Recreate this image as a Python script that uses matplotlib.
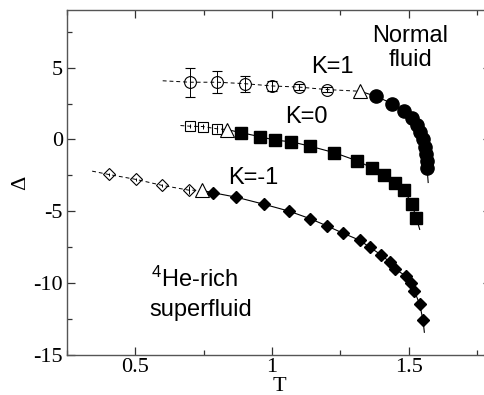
import matplotlib
matplotlib.use('Agg')
import matplotlib.pyplot as plt
from matplotlib.ticker import MultipleLocator

plt.rcParams['font.family'] = 'serif'
plt.rcParams['font.serif'] = ['Liberation Serif', 'DejaVu Serif']
plt.rcParams['mathtext.fontset'] = 'custom'
plt.rcParams['mathtext.rm'] = 'Liberation Sans'
plt.rcParams['axes.unicode_minus'] = False

# K=1 branch
k1_open_T = [0.70, 0.80, 0.90, 1.00, 1.10, 1.20]
k1_open_D = [3.98, 3.98, 3.88, 3.72, 3.64, 3.47]
k1_open_err = [1.0, 0.75, 0.55, 0.35, 0.2, 0.15]
k1_tri = (1.323, 3.35)
k1_fill_T = [1.380, 1.439, 1.481, 1.510, 1.529, 1.542, 1.551, 1.558, 1.563, 1.565, 1.567]
k1_fill_D = [3.0, 2.5, 2.0, 1.5, 1.0, 0.5, 0.0, -0.5, -1.0, -1.5, -2.0]
k1_ends = [(0.60, 4.08), (1.571, -2.99)]

# K=0 branch
k0_open_T = [0.701, 0.747, 0.799]
k0_open_D = [0.92, 0.90, 0.74]
k0_open_err = [0.15, 0.15, 0.3]
k0_tri = (0.835, 0.69)
k0_fill_T = [0.888, 0.957, 1.012, 1.071, 1.140, 1.228, 1.311, 1.367, 1.410, 1.450,
             1.483, 1.512, 1.528]
k0_fill_D = [0.47, 0.19, -0.05, -0.16, -0.47, -0.92, -1.48, -1.99, -2.49, -2.99,
             -3.51, -4.51, -5.49]
k0_ends = [(0.665, 0.97), (1.540, -6.25)]

# K=-1 branch
km1_open_T = [0.402, 0.504, 0.598, 0.695]
km1_open_D = [-2.43, -2.78, -3.19, -3.52]
km1_open_err = [0.1, 0.1, 0.1, 0.3]
km1_tri = (0.744, -3.54)
km1_fill_T = [0.784, 0.869, 0.972, 1.062, 1.140, 1.200, 1.258, 1.320, 1.358, 1.399,
              1.432, 1.448, 1.491, 1.509, 1.520, 1.540, 1.552]
km1_fill_D = [-3.70, -4.01, -4.51, -4.98, -5.51, -6.0, -6.5, -7.0, -7.5, -8.02,
              -8.54, -8.98, -9.51, -9.95, -10.5, -11.46, -12.55]
km1_ends = [(0.342, -2.2), (1.557, -13.4)]


def add_branch(ax, open_T, open_D, open_err, tri, fill_T, fill_D, ends,
               open_marker, open_ms, fill_marker, fill_ms, caps):
    "Dashed fit through the open symbols, solid fit through the filled ones"
    dash_T = [ends[0][0]] + list(open_T) + [tri[0]]
    dash_D = [ends[0][1]] + list(open_D) + [tri[1]]
    ax.plot(dash_T, dash_D, ls='--', dashes=(4, 3), color='black', lw=0.7, zorder=1)

    solid_T = [tri[0]] + list(fill_T) + [ends[1][0]]
    solid_D = [tri[1]] + list(fill_D) + [ends[1][1]]
    ax.plot(solid_T, solid_D, '-', color='black', lw=0.8, zorder=1)

    ax.errorbar(open_T, open_D, yerr=open_err, fmt=open_marker, ms=open_ms,
                mfc='none', mec='black', mew=0.8, ecolor='black',
                elinewidth=0.7, capsize=caps, capthick=0.8, zorder=2)
    ax.plot([tri[0]], [tri[1]], '^', ms=10.5, mfc='white', mec='black', mew=0.8, zorder=3)
    ax.plot(fill_T, fill_D, fill_marker, ms=fill_ms, color='black', zorder=3)


fig = plt.figure(figsize=(4.85, 3.95), dpi=100)
ax = fig.add_axes([67 / 485, 0.1005, 0.8738, 0.8742])

add_branch(ax, k1_open_T, k1_open_D, k1_open_err, k1_tri, k1_fill_T, k1_fill_D,
           k1_ends, 'o', 8.5, 'o', 9.5, 3.5)
add_branch(ax, k0_open_T, k0_open_D, k0_open_err, k0_tri, k0_fill_T, k0_fill_D,
           k0_ends, 's', 7, 's', 8.5, 0)
add_branch(ax, km1_open_T, km1_open_D, km1_open_err, km1_tri, km1_fill_T, km1_fill_D,
           km1_ends, 'D', 5.8, 'D', 6.3, 0)

ax.set_xlim(0.25, 1.8)
ax.set_ylim(-15, 9)
ax.xaxis.set_major_locator(MultipleLocator(0.5))
ax.xaxis.set_minor_locator(MultipleLocator(0.25))
ax.yaxis.set_major_locator(MultipleLocator(5))
ax.yaxis.set_minor_locator(MultipleLocator(2.5))
ax.set_xticks([0.5, 1, 1.5])
ax.set_xticklabels(['0.5', '1', '1.5'])
ax.tick_params(which='both', direction='in', top=True, right=True,
               labelsize=16, width=0.9, color='#333333')
ax.tick_params(which='major', length=6, pad=3)
ax.tick_params(axis='x', which='major', pad=2)
ax.tick_params(which='minor', length=3.5)
for sp in ax.spines.values():
    sp.set_color('#555555')
    sp.set_linewidth(1.0)

ax.set_xlabel('T', fontsize=16, labelpad=0)
ax.set_ylabel('Δ', fontsize=16, labelpad=2)

sans = 'Liberation Sans'
fs = 17
ax.text(1.220, 5.03, 'K=1', fontsize=fs, family=sans, ha='center', va='center')
ax.text(1.125, 1.53, 'K=0', fontsize=fs, family=sans, ha='center', va='center')
ax.text(0.930, -2.67, 'K=-1', fontsize=fs, family=sans, ha='center', va='center')
ax.text(1.504, 7.22, 'Normal', fontsize=fs, family=sans, ha='center', va='center')
ax.text(1.506, 5.49, 'fluid', fontsize=fs, family=sans, ha='center', va='center')
ax.text(0.716, -9.72, r'$\mathregular{^4}$He-rich', fontsize=fs, family=sans,
        ha='center', va='center')
ax.text(0.741, -11.875, 'superfluid', fontsize=fs, family=sans, ha='center', va='center')

fig.savefig('out.png', dpi=100)
